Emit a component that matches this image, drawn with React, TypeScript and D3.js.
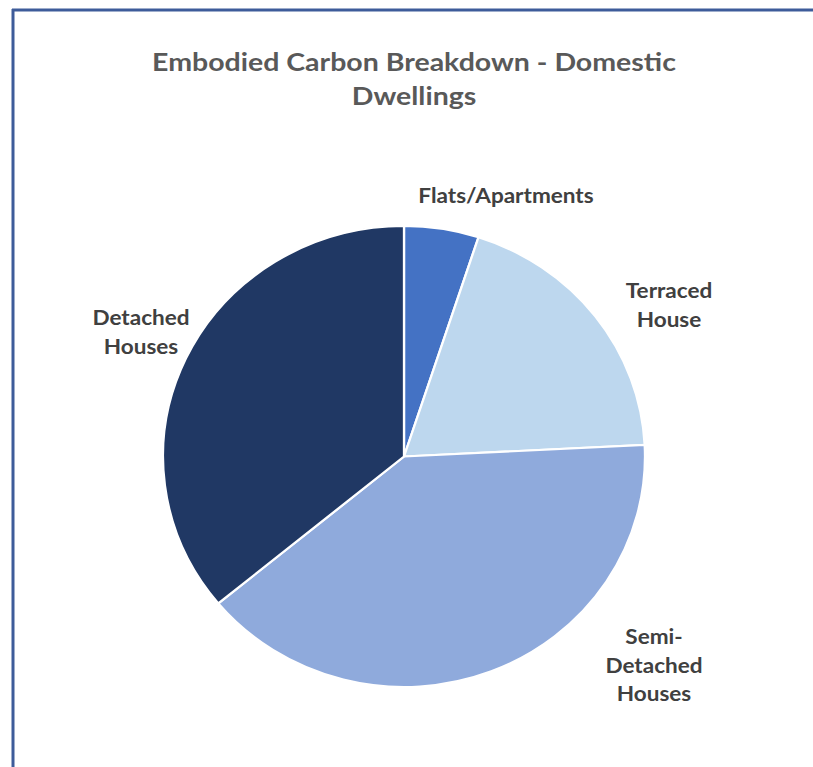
import React from "react";
import * as d3 from "d3";

const categories = ["Flats/Apartments", "Terraced House", "Semi-Detached Houses", "Detached Houses"];
const values = [5, 19.2, 39.8, 36];
const labelLines = [["Flats/Apartments"], ["Terraced", "House"], ["Semi-", "Detached", "Houses"], ["Detached", "Houses"]];
const colors = ["#4472c4", "#bdd7ee", "#8faadc", "#203864"];
const titleLines = ["Embodied Carbon Breakdown - Domestic", "Dwellings"];

const W = 813, H = 767;
const cx = 404, cy = 456.5, rx = 241, ry = 230.5;
// label anchor positions (layout) per category: center x, first baseline y
const labelPos: [number, number][] = [[506, 203], [669, 298], [654, 644], [141, 325]];

export default function App() {
  const pie = d3.pie<number>().sort(null).value((d) => d);
  const arcs = pie(values);
  const arc = d3.arc<d3.PieArcDatum<number>>().innerRadius(0).outerRadius(ry);
  const font = "Lato, 'Open Sans', sans-serif";
  return (
    <svg width={W} height={H} style={{ position: "absolute", left: 0, top: 0, background: "#fff" }}>
      <rect x={0} y={0} width={W} height={H} fill="#fff" />
      <line x1={12} x2={W} y1={10} y2={10} stroke="#3e5c9a" strokeWidth={3} />
      <line x1={13} x2={13} y1={9} y2={H} stroke="#3e5c9a" strokeWidth={3} />
      {titleLines.map((t, i) => (
        <text key={i} transform={`translate(414,${71 + i * 34}) scale(1.14,1)`} textAnchor="middle" fontFamily={font} fontWeight="bold" fontSize={25} fill="#595959">{t}</text>
      ))}
      <g transform={`translate(${cx},${cy}) scale(${rx / ry},1)`}>
        {arcs.map((a, i) => (
          <path key={categories[i]} d={arc(a) || ""} fill={colors[i]} stroke="#fff" strokeWidth={2.2} />
        ))}
      </g>
      {labelLines.map((lines, i) => (
        <g key={i}>
          {lines.map((l, j) => (
            <text key={j} transform={`translate(${labelPos[i][0]},${labelPos[i][1] + j * 28.5}) scale(1.1,1)`} textAnchor="middle" fontFamily={font} fontWeight="bold" fontSize={20.5} fill="#404040">{l}</text>
          ))}
        </g>
      ))}
    </svg>
  );
}
